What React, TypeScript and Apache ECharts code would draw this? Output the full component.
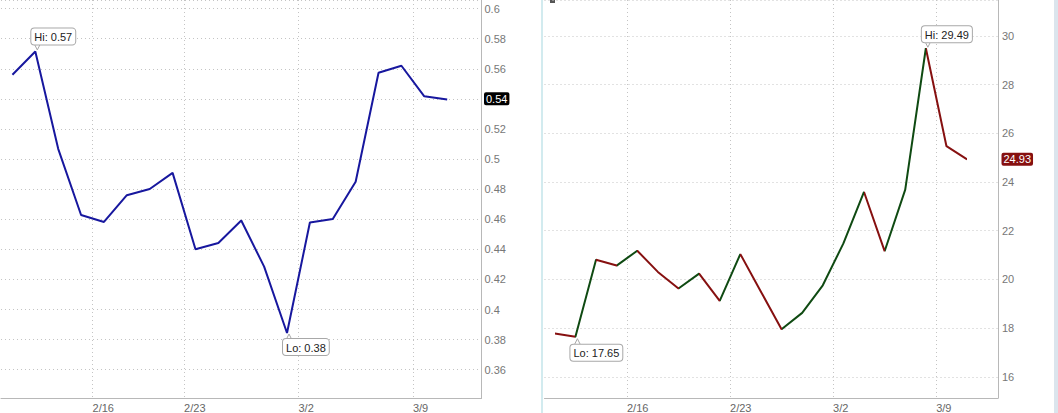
import { useEffect, useRef } from 'react';
import * as echarts from 'echarts';

// ---- data ----
const leftDates = ['2/10', '2/11', '2/12', '2/13', '2/17', '2/18', '2/19', '2/20', '2/23', '2/24', '2/25', '2/26', '2/27', '3/2', '3/3', '3/4', '3/5', '3/6', '3/9', '3/10', '3/11'];
const leftValues = [0.556, 0.5715, 0.5068, 0.4628, 0.4582, 0.476, 0.4801, 0.4908, 0.4401, 0.4442, 0.4592, 0.4285, 0.3844, 0.4578, 0.4601, 0.4849, 0.5574, 0.562, 0.5417, 0.5396, null];
const leftWeekStarts = [4, 8, 13, 18];

const rightDates = ['2/10', '2/11', '2/12', '2/13', '2/16', '2/17', '2/18', '2/19', '2/20', '2/23', '2/24', '2/25', '2/26', '2/27', '3/2', '3/3', '3/4', '3/5', '3/6', '3/9', '3/10', '3/11'];
const rightValues = [17.78, 17.65, 20.81, 20.57, 21.18, 20.31, 19.63, 20.24, 19.12, 21.04, 19.5, 17.96, 18.63, 19.76, 21.48, 23.59, 21.16, 23.69, 29.49, 25.47, 24.93, null];
const rightWeekStarts = [4, 9, 14, 19];

const weekLabels = ['2/16', '2/23', '3/2', '3/9'];

// ---- styles ----
const FONT = 'Liberation Sans, Arial, sans-serif';
const BLUE = '#17179e';
const GREEN = '#0f4a12';
const RED = '#861010';
const AXIS = '#b8b8b8';
const GRID = '#c4c4c4';
const BOX_BORDER = '#a8a8a8';

function lastValue(arr: (number | null)[]): number {
  for (let i = arr.length - 1; i >= 0; i--) if (arr[i] != null) return arr[i] as number;
  return 0;
}

function isMultiple(v: number, step: number) {
  const r = v / step;
  return Math.abs(r - Math.round(r)) < 1e-6;
}

function xAxisFor(gridIndex: number, dates: string[], starts: number[], half: number) {
  const show = (i: number) => starts.indexOf(i) >= 0;
  return {
    type: 'category',
    gridIndex,
    data: dates,
    boundaryGap: true,
    axisLine: { show: true, lineStyle: { color: AXIS, width: 1 } },
    axisTick: { show: false },
    axisLabel: {
      interval: (i: number) => show(i),
      formatter: (_v: string, i: number) => weekLabels[starts.indexOf(i)] ?? '',
      align: 'left',
      padding: [0, 0, 0, -half],
      margin: 4,
      color: '#666',
      fontSize: 11,
      fontFamily: FONT,
    },
    splitLine: {
      show: true,
      interval: (i: number) => show(i),
      lineStyle: { color: GRID, width: 1, type: [1, 3] },
    },
  };
}

function yAxisFor(gridIndex: number, min: number, max: number, step: number, margin: number) {
  return {
    type: 'value',
    gridIndex,
    position: 'right',
    min,
    max,
    minInterval: step,
    maxInterval: step,
    axisLine: { show: true, lineStyle: { color: AXIS, width: 1 } },
    axisTick: { show: false },
    axisLabel: {
      margin,
      color: '#777',
      fontSize: 11,
      fontFamily: FONT,
      formatter: (v: number) => (isMultiple(v, step) ? String(parseFloat(v.toFixed(4))) : ''),
    },
    splitLine: { show: true, lineStyle: { color: GRID, width: 1, type: [1, 3] } },
  };
}

const boxLabel = {
  show: true,
  align: 'left',
  backgroundColor: '#fff',
  borderColor: BOX_BORDER,
  borderWidth: 1,
  borderRadius: 3,
  padding: [2, 3, 1, 3],
  color: '#222',
  fontSize: 11,
  lineHeight: 13,
  fontFamily: FONT,
};

function markPoints(offsetHi: number, distHi: number, offsetLo: number, distLo: number) {
  const tail = {
    symbol: 'triangle',
    symbolSize: [6, 6],
    itemStyle: { color: '#fff', borderColor: BOX_BORDER, borderWidth: 1 },
    label: { show: false },
  };
  return {
    symbol: 'circle',
    symbolSize: 0.01,
    itemStyle: { color: 'rgba(0,0,0,0)' },
    data: [
      { type: 'max', ...tail, symbolRotate: 180, symbolOffset: [2, -(distHi / 2 + 1)] },
      { type: 'min', ...tail, symbolRotate: 0, symbolOffset: [2, distLo / 2 + 1] },
      {
        type: 'max',
        label: {
          ...boxLabel,
          position: 'top',
          distance: distHi,
          offset: [offsetHi, 0],
          formatter: (p: any) => 'Hi: ' + Number(p.value).toFixed(2),
        },
      },
      {
        type: 'min',
        label: {
          ...boxLabel,
          position: 'bottom',
          distance: distLo,
          offset: [offsetLo, 0],
          formatter: (p: any) => 'Lo: ' + Number(p.value).toFixed(2),
        },
      },
    ],
  };
}

function tagLine(value: number, bg: string, distance: number) {
  return {
    symbol: 'none',
    silent: true,
    lineStyle: { color: 'rgba(0,0,0,0)', width: 0 },
    label: {
      show: true,
      position: 'end',
      distance,
      formatter: () => value.toFixed(2),
      backgroundColor: bg,
      color: '#fff',
      fontSize: 11,
      lineHeight: 12,
      fontFamily: FONT,
      padding: [1, 2, 0, 2],
      borderRadius: 2,
    },
    data: [{ yAxis: value }],
  };
}

function rightPieces() {
  const pieces: any[] = [];
  for (let i = 0; i < rightValues.length - 1; i++) {
    const a = rightValues[i];
    const b = rightValues[i + 1];
    if (a == null || b == null) continue;
    pieces.push({ gte: i, lte: i + 1, color: b >= a ? GREEN : RED });
  }
  return pieces;
}

export default function App() {
  const ref = useRef<HTMLDivElement>(null);

  useEffect(() => {
    document.body.style.margin = '0';
    if (!ref.current) return;
    const chart = echarts.init(ref.current, undefined, { renderer: 'svg' });
    const leftLast = lastValue(leftValues);
    const rightLast = lastValue(rightValues);

    chart.setOption({
      animation: false,
      backgroundColor: '#fff',
      textStyle: { fontFamily: FONT },
      grid: [
        { left: 1, top: 0, width: 480.5, height: 400, containLabel: false },
        { left: 544.5, top: 0, width: 453.5, height: 398, containLabel: false },
      ],
      xAxis: [
        xAxisFor(0, leftDates, leftWeekStarts, 11.4),
        xAxisFor(1, rightDates, rightWeekStarts, 10.3),
      ],
      yAxis: [
        yAxisFor(0, 0.3412, 0.6057, 0.02, 3),
        yAxisFor(1, 15.135, 31.47, 2, 4),
      ],
      visualMap: [
        {
          type: 'piecewise',
          show: false,
          seriesIndex: 1,
          dimension: 0,
          pieces: rightPieces(),
        },
      ],
      graphic: [
        { type: 'rect', silent: true, shape: { x: 541, y: 0, width: 2, height: 413 }, style: { fill: '#d2ebef' } },
        { type: 'rect', silent: true, shape: { x: 1054, y: 0, width: 4, height: 413 }, style: { fill: '#dbe5ed' } },
        { type: 'rect', silent: true, shape: { x: 550, y: 0, width: 5, height: 3 }, style: { fill: '#555' } },
      ],
      series: [
        {
          type: 'line',
          xAxisIndex: 0,
          yAxisIndex: 0,
          data: leftValues,
          symbol: 'none',
          lineStyle: { color: BLUE, width: 2 },
          itemStyle: { color: BLUE },
          markPoint: markPoints(-4, 7, -4, 6),
          markLine: tagLine(leftLast, '#000', 2.5),
        },
        {
          type: 'line',
          xAxisIndex: 1,
          yAxisIndex: 1,
          data: rightValues,
          symbol: 'none',
          lineStyle: { width: 2 },
          markPoint: markPoints(-4, 6, -5, 8),
          markLine: tagLine(rightLast, RED, 3.5),
        },
      ],
    });
    return () => chart.dispose();
  }, []);

  return <div ref={ref} style={{ width: 1058, height: 413 }} />;
}
